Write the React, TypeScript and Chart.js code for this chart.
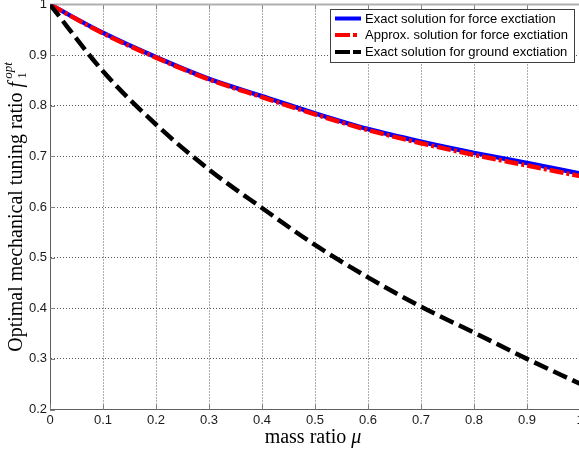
import React, { useEffect, useRef } from "react";
import { Chart, registerables } from "chart.js";

Chart.register(...registerables);

const massRatio = [0, 0.1, 0.2, 0.3, 0.4, 0.5, 0.6, 0.7, 0.8, 0.9, 1.0];
const exactForce = [1, 0.944, 0.896, 0.853, 0.819, 0.785, 0.754, 0.729, 0.707, 0.687, 0.666];
const approxForce = [1, 0.943, 0.895, 0.852, 0.817, 0.783, 0.752, 0.726, 0.703, 0.682, 0.661];
const exactGround = [1, 0.868, 0.763, 0.674, 0.598, 0.525, 0.461, 0.403, 0.352, 0.3, 0.251];

const seriesLabels = [
  "Exact solution for force exctiation",
  "Approx. solution for force exctiation",
  "Exact solution for ground exctiation",
];
const xTickValues = [0, 0.1, 0.2, 0.3, 0.4, 0.5, 0.6, 0.7, 0.8, 0.9, 1];
const yTickValues = [0.2, 0.3, 0.4, 0.5, 0.6, 0.7, 0.8, 0.9, 1];
const yTitleMain = "Optimal mechanical tuning ratio ";
const xTitleMain = "mass ratio ";

const CANVAS_W = 600;
const CANVAS_H = 450;
const SERIF = "'Liberation Serif', 'DejaVu Serif', serif";
const SANS = "'Liberation Sans', Arial, sans-serif";

const framePlugin = {
  id: "frame",
  beforeDatasetsDraw(chart: any) {
    const { ctx, chartArea } = chart;
    const xs = chart.scales.x;
    const ys = chart.scales.y;
    ctx.save();
    ctx.strokeStyle = "#808080";
    ctx.lineWidth = 1;
    ctx.setLineDash([]);
    for (const v of xTickValues) {
      const px = Math.round(xs.getPixelForValue(v)) + 0.5;
      ctx.beginPath();
      ctx.moveTo(px, chartArea.bottom);
      ctx.lineTo(px, chartArea.bottom - 5);
      ctx.moveTo(px, chartArea.top);
      ctx.lineTo(px, chartArea.top + 5);
      ctx.stroke();
    }
    for (const v of yTickValues) {
      const py = Math.round(ys.getPixelForValue(v)) + 0.5;
      ctx.beginPath();
      ctx.moveTo(chartArea.left, py);
      ctx.lineTo(chartArea.left + 5, py);
      ctx.stroke();
    }
    ctx.strokeStyle = "#b0b0b0";
    ctx.lineWidth = 2;
    ctx.beginPath();
    ctx.moveTo(chartArea.left, chartArea.top);
    ctx.lineTo(chartArea.right, chartArea.top);
    ctx.stroke();
    ctx.restore();
  },
  afterDatasetsDraw(chart: any) {
    const { ctx, chartArea } = chart;
    ctx.save();
    // legend
    const bx = 330.5, by = 9.5, bw = 244, bh = 53;
    ctx.fillStyle = "#ffffff";
    ctx.fillRect(bx, by, bw, bh);
    ctx.strokeStyle = "#404040";
    ctx.lineWidth = 1;
    ctx.setLineDash([]);
    ctx.strokeRect(bx, by, bw, bh);
    const rows = [18.5, 35, 52];
    chart.data.datasets.forEach((ds: any, i: number) => {
      const y = rows[i];
      ctx.save();
      ctx.strokeStyle = ds.borderColor;
      ctx.lineWidth = 4;
      ctx.lineCap = "butt";
      ctx.setLineDash(ds.legendDash || []);
      ctx.beginPath();
      ctx.moveTo(335, y);
      ctx.lineTo(361, y);
      ctx.stroke();
      ctx.restore();
      ctx.fillStyle = "#000000";
      ctx.font = `13px ${SANS}`;
      ctx.textAlign = "left";
      ctx.textBaseline = "middle";
      ctx.fillText(ds.label, 365, y + 0.5);
    });

    // x title
    ctx.fillStyle = "#000000";
    ctx.textBaseline = "alphabetic";
    ctx.font = `20px ${SERIF}`;
    const wMain = ctx.measureText(xTitleMain).width;
    ctx.font = `italic 20px ${SERIF}`;
    const wMu = ctx.measureText("μ").width;
    const cx = (chartArea.left + chartArea.right) / 2 - 2;
    const x0 = cx - (wMain + wMu) / 2;
    ctx.textAlign = "left";
    ctx.font = `20px ${SERIF}`;
    ctx.fillText(xTitleMain, x0, 443);
    ctx.font = `italic 20px ${SERIF}`;
    ctx.fillText("μ", x0 + wMain, 443);

    // y title (rotated)
    ctx.save();
    const cy = (chartArea.top + chartArea.bottom) / 2;
    ctx.translate(22, cy);
    ctx.rotate(-Math.PI / 2);
    ctx.font = `20px ${SERIF}`;
    const w1 = ctx.measureText(yTitleMain).width;
    ctx.font = `italic 20px ${SERIF}`;
    const wf = ctx.measureText("f").width + 3;
    ctx.font = `13px ${SERIF}`;
    const w2 = ctx.measureText("1").width;
    ctx.font = `italic 13px ${SERIF}`;
    const w3 = ctx.measureText("opt").width;
    const total = w1 + wf + Math.max(w2, w3);
    let sx = -total / 2;
    ctx.textAlign = "left";
    ctx.font = `20px ${SERIF}`;
    ctx.fillText(yTitleMain, sx, 0);
    sx += w1;
    ctx.font = `italic 20px ${SERIF}`;
    ctx.fillText("f", sx, 0);
    sx += wf;
    ctx.font = `13px ${SERIF}`;
    ctx.fillText("1", sx, 4);
    ctx.font = `italic 13px ${SERIF}`;
    ctx.fillText("opt", sx, -10);
    ctx.restore();

    ctx.restore();
  },
};

export default function App() {
  const canvasRef = useRef<HTMLCanvasElement | null>(null);

  useEffect(() => {
    if (!canvasRef.current) return;
    const toPts = (ys: number[]) => massRatio.map((x, i) => ({ x, y: ys[i] }));
    const chart = new Chart(canvasRef.current, {
      type: "line",
      data: {
        datasets: [
          {
            label: seriesLabels[0],
            data: toPts(exactForce),
            borderColor: "#0000ff",
            borderWidth: 4.5,
            pointRadius: 0,
            cubicInterpolationMode: "monotone",
            order: 3,
            legendDash: [],
          } as any,
          {
            label: seriesLabels[1],
            data: toPts(approxForce),
            borderColor: "#ff0000",
            borderWidth: 4.5,
            borderDash: [14, 3, 3, 3],
            borderCapStyle: "butt",
            pointRadius: 0,
            cubicInterpolationMode: "monotone",
            order: 2,
            legendDash: [15, 3, 4, 30],
          } as any,
          {
            label: seriesLabels[2],
            data: toPts(exactGround),
            borderColor: "#000000",
            borderWidth: 4.5,
            borderDash: [15, 6],
            borderCapStyle: "butt",
            pointRadius: 0,
            cubicInterpolationMode: "monotone",
            order: 1,
            legendDash: [15, 3, 30, 0],
          } as any,
        ],
      },
      options: {
        responsive: false,
        animation: false,
        devicePixelRatio: 1,
        layout: { padding: { left: 0, top: 4.5, right: 20, bottom: 0 } },
        plugins: { legend: { display: false }, tooltip: { enabled: false } },
        scales: {
          x: {
            type: "linear",
            min: 0,
            max: 1,
            afterBuildTicks: (s: any) => {
              s.ticks = xTickValues.map((v) => ({ value: v }));
            },
            afterFit: (s: any) => {
              s.height = 40.5;
              s.paddingLeft = 0;
              s.paddingRight = 0;
            },
            ticks: {
              padding: 3,
              color: "#1a1a1a",
              font: { family: SANS, size: 13 },
              maxRotation: 0,
              autoSkip: false,
              callback: (v: any) => String(Math.round(Number(v) * 10) / 10),
            },
            grid: { color: "#5a5a5a", lineWidth: 1, drawTicks: false },
            border: { display: true, color: "#606060", width: 1, dash: [1, 2] },
          },
          y: {
            type: "linear",
            min: 0.2,
            max: 1,
            afterBuildTicks: (s: any) => {
              s.ticks = yTickValues.map((v) => ({ value: v }));
            },
            afterFit: (s: any) => {
              s.width = 50;
              s.paddingTop = 0;
              s.paddingBottom = 0;
            },
            ticks: {
              padding: 3,
              color: "#1a1a1a",
              font: { family: SANS, size: 13 },
              autoSkip: false,
              callback: (v: any) => String(Math.round(Number(v) * 10) / 10),
            },
            grid: { color: "#5a5a5a", lineWidth: 1, drawTicks: false },
            border: { display: true, color: "#606060", width: 1, dash: [1, 2] },
          },
        },
      } as any,
      plugins: [framePlugin],
    });
    return () => chart.destroy();
  }, []);

  return (
    <div
      style={{
        position: "absolute",
        left: 0,
        top: 0,
        width: 579,
        height: 450,
        overflow: "hidden",
        background: "#ffffff",
      }}
    >
      <canvas
        ref={canvasRef}
        width={CANVAS_W}
        height={CANVAS_H}
        style={{ width: CANVAS_W, height: CANVAS_H, display: "block" }}
      />
    </div>
  );
}
